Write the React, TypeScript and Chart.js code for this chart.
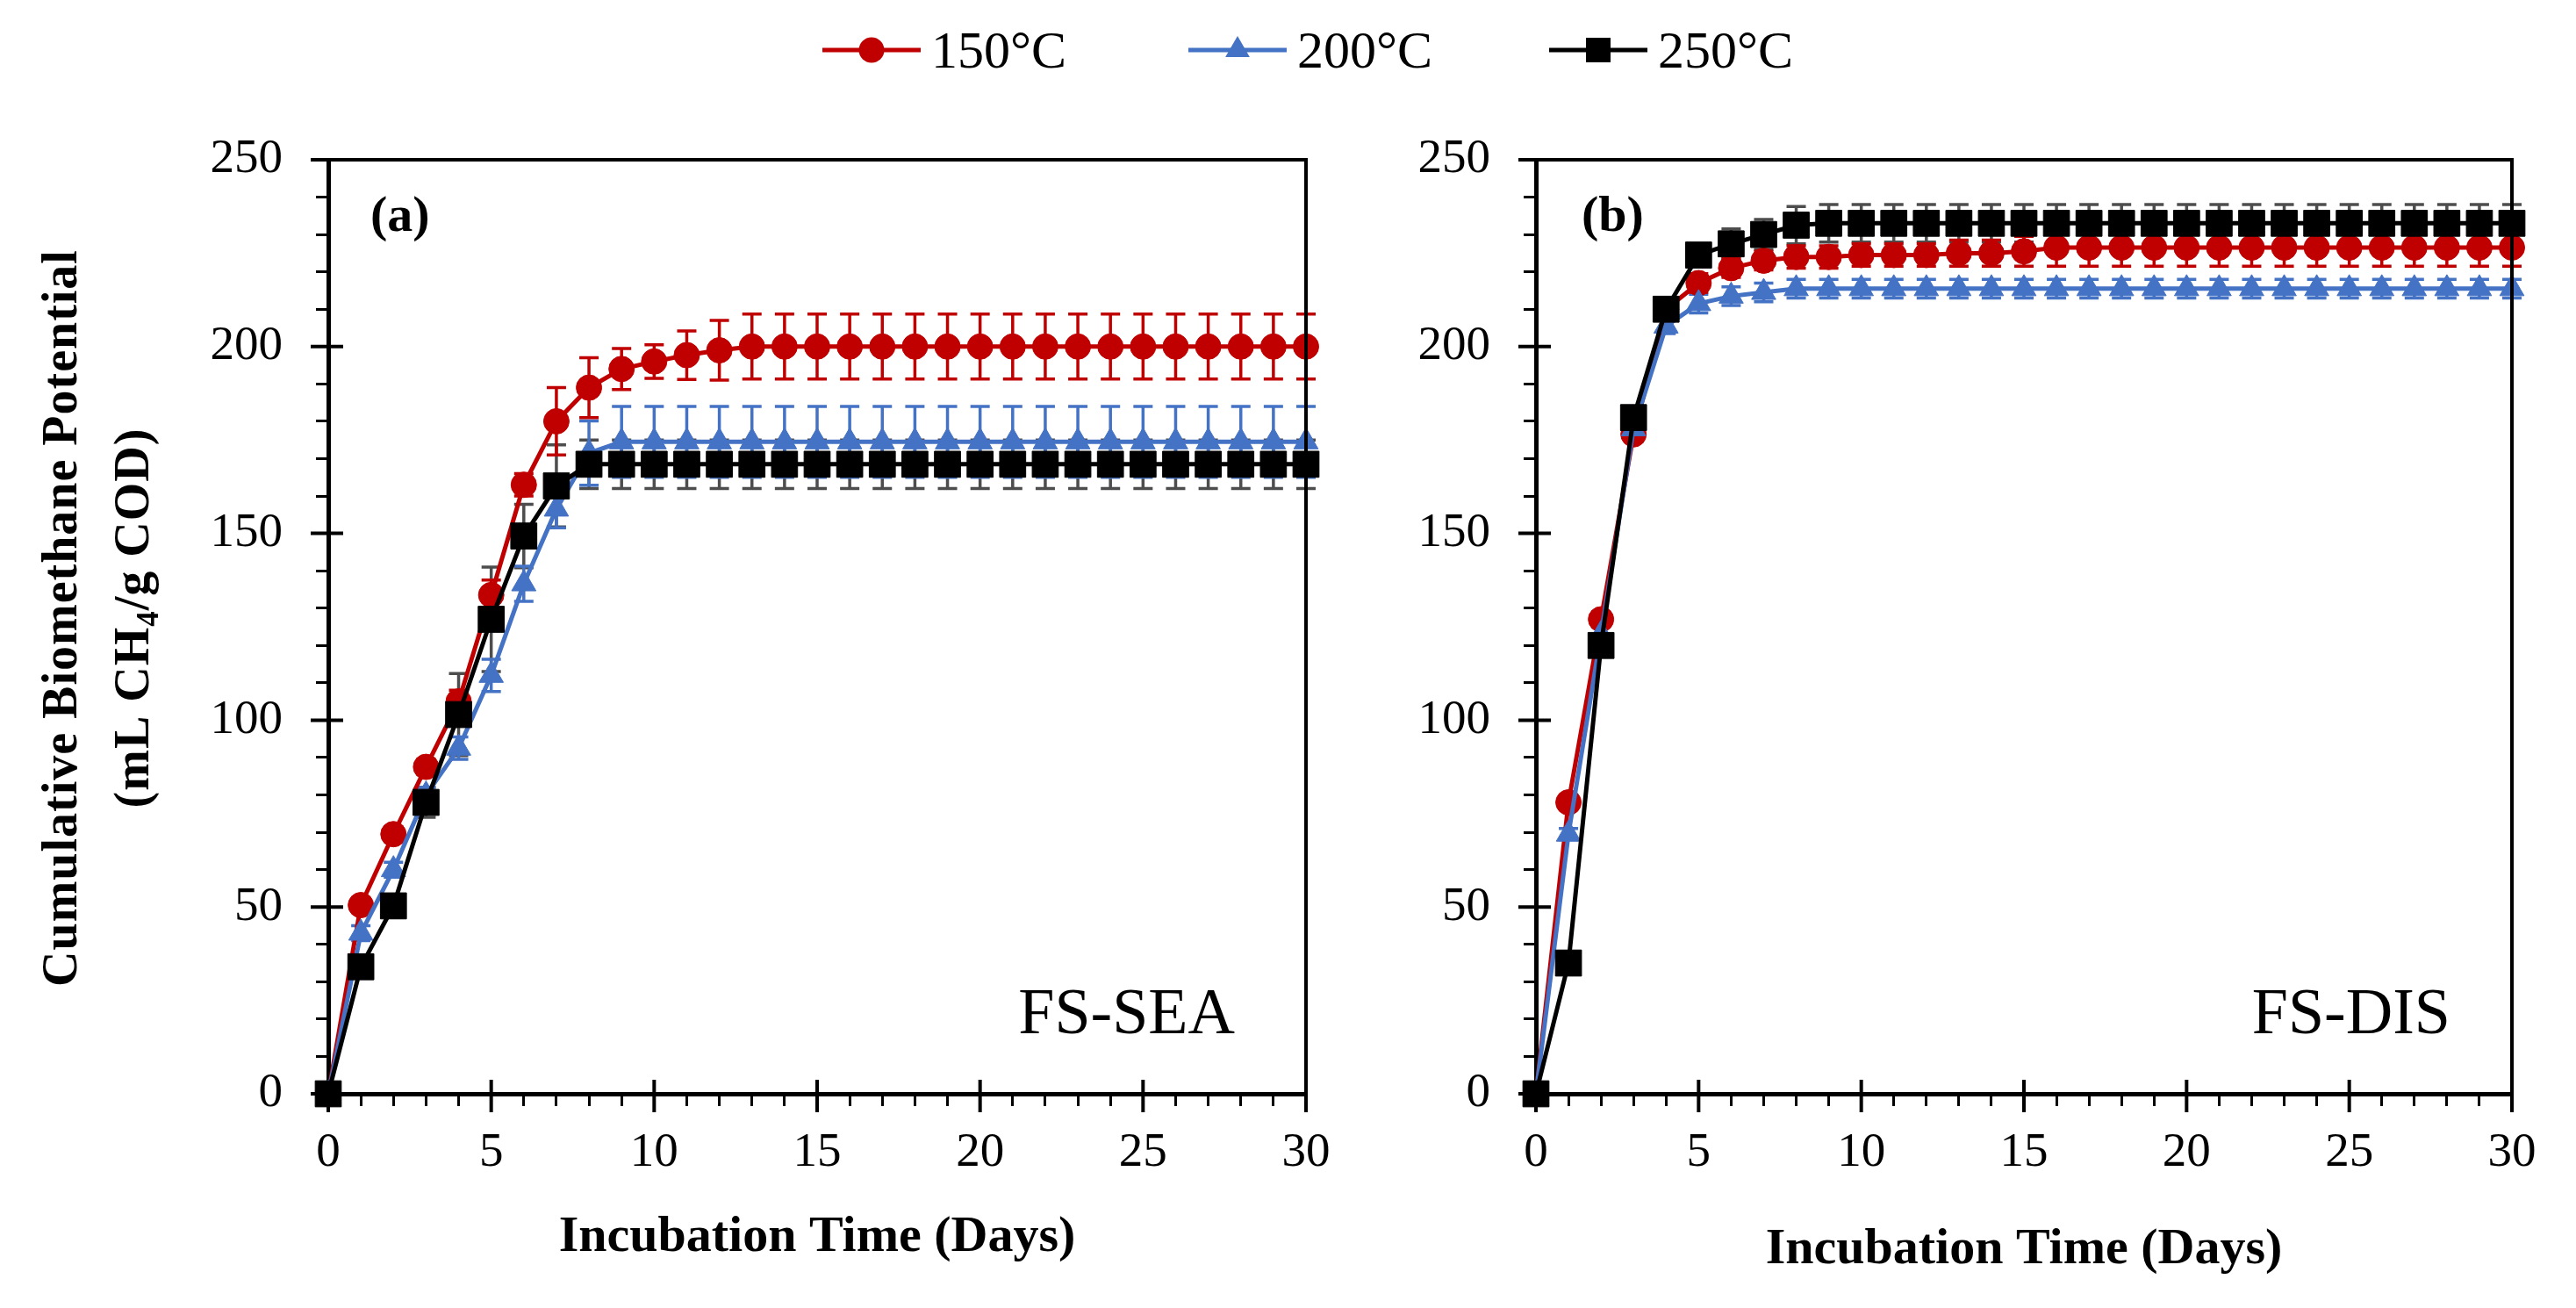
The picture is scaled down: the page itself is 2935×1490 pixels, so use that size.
import { useEffect, useRef } from 'react'
import { Chart, registerables } from 'chart.js'

Chart.register(...registerables)

const FONT = '"Liberation Serif", "Times New Roman", serif'
const RED = '#C00000'
const BLUE = '#4472C4'
const BLACK = '#000000'
const GREY = '#4D4D4D'

// incubation days
const days = [0, 1, 2, 3, 4, 5, 6, 7, 8, 9, 10, 11, 12, 13, 14, 15, 16, 17, 18, 19, 20, 21, 22, 23, 24, 25, 26, 27, 28, 29, 30]
const xTickLabels = [0, 5, 10, 15, 20, 25, 30]
const yTickLabels = [0, 50, 100, 150, 200, 250]

// (a) FS-SEA
const sea150 = [0, 50.5, 69.5, 87.5, 105, 133.5, 163, 180, 189, 194, 196, 197.7, 199, 200, 200, 200, 200, 200, 200, 200, 200, 200, 200, 200, 200, 200, 200, 200, 200, 200, 200]
const sea150Err = [0, 2, 2, 2, 3, 4, 3, 9, 8, 5.5, 4.5, 6.5, 8, 8.7, 8.7, 8.7, 8.7, 8.7, 8.7, 8.7, 8.7, 8.7, 8.7, 8.7, 8.7, 8.7, 8.7, 8.7, 8.7, 8.7, 8.7]
const sea200 = [0, 43, 60, 80, 92.5, 112, 136.5, 156.5, 171.5, 174.5, 174.5, 174.5, 174.5, 174.5, 174.5, 174.5, 174.5, 174.5, 174.5, 174.5, 174.5, 174.5, 174.5, 174.5, 174.5, 174.5, 174.5, 174.5, 174.5, 174.5, 174.5]
const sea200Err = [0, 2, 2, 2, 3, 4.3, 4.7, 5, 8.6, 9.5, 9.5, 9.5, 9.5, 9.5, 9.5, 9.5, 9.5, 9.5, 9.5, 9.5, 9.5, 9.5, 9.5, 9.5, 9.5, 9.5, 9.5, 9.5, 9.5, 9.5, 9.5]
const sea250 = [0, 34, 50.3, 78, 101.5, 127, 149.3, 162.7, 168.5, 168.5, 168.5, 168.5, 168.5, 168.5, 168.5, 168.5, 168.5, 168.5, 168.5, 168.5, 168.5, 168.5, 168.5, 168.5, 168.5, 168.5, 168.5, 168.5, 168.5, 168.5, 168.5]
const sea250Err = [0, 2, 3, 4, 11, 14, 8.5, 11, 6.5, 6.5, 6.5, 6.5, 6.5, 6.5, 6.5, 6.5, 6.5, 6.5, 6.5, 6.5, 6.5, 6.5, 6.5, 6.5, 6.5, 6.5, 6.5, 6.5, 6.5, 6.5, 6.5]

// (b) FS-DIS
const dis150 = [0, 78, 127, 176.5, 210, 217, 221, 223, 224, 224, 224.5, 224.5, 224.5, 225, 225, 225.5, 226.5, 226.5, 226.5, 226.5, 226.5, 226.5, 226.5, 226.5, 226.5, 226.5, 226.5, 226.5, 226.5, 226.5, 226.5]
const dis150Err = [0, 2, 2, 2, 2, 2.5, 2.5, 2.5, 3, 3, 3, 3, 3, 3.5, 3.5, 4, 5, 5, 5, 5, 5, 5, 5, 5, 5, 5, 5, 5, 5, 5, 5]
const dis200 = [0, 69.5, 123, 178, 205.5, 211.5, 213.5, 214.5, 215.5, 215.5, 215.5, 215.5, 215.5, 215.5, 215.5, 215.5, 215.5, 215.5, 215.5, 215.5, 215.5, 215.5, 215.5, 215.5, 215.5, 215.5, 215.5, 215.5, 215.5, 215.5, 215.5]
const dis200Err = [0, 1.5, 2, 2, 2, 2.5, 2.5, 2.5, 2.5, 2.5, 2.5, 2.5, 2.5, 2.5, 2.5, 2.5, 2.5, 2.5, 2.5, 2.5, 2.5, 2.5, 2.5, 2.5, 2.5, 2.5, 2.5, 2.5, 2.5, 2.5, 2.5]
const dis250 = [0, 35, 120, 181, 210, 224.5, 227.5, 230, 232.5, 233, 233, 233, 233, 233, 233, 233, 233, 233, 233, 233, 233, 233, 233, 233, 233, 233, 233, 233, 233, 233, 233]
const dis250Err = [0, 1.5, 3, 2, 3, 3, 4, 4, 5, 5, 5, 5, 5, 5, 5, 5, 5, 5, 5, 5, 5, 5, 5, 5, 5, 5, 5, 5, 5, 5, 5]

const seriesNames = ['150°C', '200°C', '250°C']
const yTitleLines = [
  [{ t: 'Cumulative Biomethane Potential' }],
  [{ t: '(mL CH' }, { t: '4', sub: true }, { t: '/g COD)' }],
]

const errorBars = {
  id: 'errorBars',
  beforeDatasetsDraw(chart) {
    const { ctx } = chart
    const y = chart.scales.y
    const x = chart.scales.x
    // red, blue, black so the black bars end on top
    ;[...chart.data.datasets].reverse().forEach((ds) => {
      ctx.save()
      ctx.strokeStyle = ds.errorColor
      ctx.lineWidth = 3.5
      ds.data.forEach((p, j) => {
        const e = ds.errors[j]
        if (!e) return
        const px = x.getPixelForValue(p.x)
        const top = y.getPixelForValue(p.y + e)
        const bot = y.getPixelForValue(p.y - e)
        ctx.beginPath()
        ctx.moveTo(px, top)
        ctx.lineTo(px, bot)
        ctx.moveTo(px - 11, top)
        ctx.lineTo(px + 11, top)
        ctx.moveTo(px - 11, bot)
        ctx.lineTo(px + 11, bot)
        ctx.stroke()
      })
      ctx.restore()
    })
  },
}

const majorTicks = {
  id: 'majorTicks',
  beforeDatasetsDraw(chart) {
    const { ctx, chartArea: a } = chart
    const { x, y } = chart.scales
    ctx.save()
    ctx.strokeStyle = '#000'
    ctx.lineWidth = 4
    ctx.beginPath()
    yTickLabels.forEach((v) => {
      const p = y.getPixelForValue(v)
      ctx.moveTo(a.left - 20, p)
      ctx.lineTo(a.left + 17, p)
    })
    xTickLabels.forEach((v) => {
      const p = x.getPixelForValue(v)
      ctx.moveTo(p, a.bottom - 16)
      ctx.lineTo(p, a.bottom + 21)
    })
    ctx.stroke()
    ctx.restore()
  },
}

const frame = {
  id: 'frame',
  afterDatasetsDraw(chart) {
    const { ctx, chartArea: a } = chart
    ctx.save()
    ctx.strokeStyle = '#000'
    ctx.lineWidth = 4
    ctx.beginPath()
    ctx.moveTo(a.left, a.top)
    ctx.lineTo(a.right, a.top)
    ctx.lineTo(a.right, a.bottom)
    ctx.stroke()
    ctx.restore()
  },
}

const panelText = {
  id: 'panelText',
  afterDraw(chart, _args, opts) {
    const { ctx, chartArea: a } = chart
    ctx.save()
    ctx.fillStyle = '#000'
    ctx.font = `bold 58px ${FONT}`
    ctx.textAlign = 'left'
    ctx.textBaseline = 'middle'
    ctx.fillText(opts.tag, a.left + opts.tagDx, a.top + 66)
    ctx.font = `74px ${FONT}`
    ctx.textAlign = 'right'
    ctx.textBaseline = 'alphabetic'
    ctx.fillText(opts.name, a.right - opts.nameDx, a.bottom - 69)
    ctx.restore()
  },
}

const yTitle = {
  id: 'yTitle',
  afterDraw(chart, _args, opts) {
    if (!opts.show) return
    const { ctx, chartArea: a } = chart
    const size = 56
    const cy = (a.top + a.bottom) / 2 - 10
    const centers = [73, 155]
    yTitleLines.forEach((parts, i) => {
      ctx.save()
      ctx.translate(centers[i], cy)
      ctx.rotate(-Math.PI / 2)
      ctx.fillStyle = '#000'
      ctx.textBaseline = 'middle'
      ctx.textAlign = 'left'
      ctx.letterSpacing = '1px'
      const fontOf = (p) => `bold ${p.sub ? Math.round(size * 0.62) : size}px ${FONT}`
      let total = 0
      parts.forEach((p) => {
        ctx.font = fontOf(p)
        total += ctx.measureText(p.t).width
      })
      let cx = -total / 2
      parts.forEach((p) => {
        ctx.font = fontOf(p)
        ctx.fillText(p.t, cx, p.sub ? size * 0.28 : 0)
        cx += ctx.measureText(p.t).width
      })
      ctx.restore()
    })
  },
}

function line(label, values, errors, color, errorColor, pointStyle, radius, order) {
  return {
    label,
    data: days.map((d, i) => ({ x: d, y: values[i] })),
    errors,
    errorColor,
    borderColor: color,
    backgroundColor: color,
    pointBackgroundColor: color,
    pointBorderColor: color,
    pointBorderWidth: 1,
    pointStyle,
    pointRadius: radius,
    borderWidth: 5,
    tension: 0,
    clip: false,
    order,
  }
}

function Panel({ left, width, yAxisWidth, padRight, titleBottom, tag, name, tagDx, nameDx, showYTitle, s150, e150, s200, e200, s250, e250 }) {
  const ref = useRef<HTMLCanvasElement>(null)

  useEffect(() => {
    const tickFont = { family: FONT, size: 55 }
    const chart = new Chart(ref.current!, {
      type: 'line',
      data: {
        datasets: [
          line(seriesNames[0], s150, e150, RED, RED, 'circle', 14.5, 3),
          line(seriesNames[1], s200, e200, BLUE, BLUE, 'triangle', 16, 2),
          line(seriesNames[2], s250, e250, BLACK, GREY, 'rect', 21, 1),
        ],
      },
      options: {
        responsive: false,
        animation: false,
        layout: { padding: { top: 182, right: padRight, left: 0, bottom: 0 } },
        plugins: {
          legend: { display: false },
          tooltip: { enabled: false },
          panelText: { tag, name, tagDx, nameDx },
          yTitle: { show: showYTitle },
        },
        scales: {
          x: {
            type: 'linear',
            min: 0,
            max: 30,
            afterFit: (s) => {
              s.height = 1490 - 1246
            },
            ticks: {
              stepSize: 1,
              autoSkip: false,
              maxRotation: 0,
              minRotation: 0,
              padding: 21,
              color: '#000',
              font: tickFont,
              callback: (v) => (xTickLabels.includes(Math.round(v)) ? String(Math.round(v)) : ''),
            },
            grid: { display: true, drawOnChartArea: false, drawTicks: true, tickLength: 14, tickColor: '#000', tickWidth: 3 },
            border: { display: true, color: '#000', width: 5 },
            title: {
              display: true,
              text: 'Incubation Time (Days)',
              color: '#000',
              font: { family: FONT, size: 58, weight: 'bold' },
              padding: { top: 0, bottom: titleBottom },
            },
          },
          y: {
            min: 0,
            max: 250,
            afterFit: (s) => {
              s.width = yAxisWidth
            },
            ticks: {
              stepSize: 10,
              autoSkip: false,
              padding: 38,
              color: '#000',
              font: tickFont,
              callback: (v) => (yTickLabels.includes(Math.round(v)) ? String(Math.round(v)) : ''),
            },
            grid: { display: true, drawOnChartArea: false, drawTicks: true, tickLength: 14, tickColor: '#000', tickWidth: 3 },
            border: { display: true, color: '#000', width: 5 },
          },
        },
      },
      plugins: [errorBars, majorTicks, frame, panelText, yTitle],
    })
    return () => chart.destroy()
  }, [])

  return <canvas ref={ref} width={width} height={1490} style={{ position: 'absolute', left, top: 0, width, height: 1490 }} />
}

function LegendItem({ left, color, marker, text }) {
  return (
    <div style={{ position: 'absolute', left, top: 27, height: 60, display: 'flex', alignItems: 'center' }}>
      <svg width={112} height={60}>
        <line x1={0} y1={30} x2={112} y2={30} stroke={color} strokeWidth={5} />
        {marker}
      </svg>
      <span style={{ marginLeft: 12, fontFamily: FONT, fontSize: 60, lineHeight: '60px', color: '#000' }}>{text}</span>
    </div>
  )
}

export default function App() {
  return (
    <div style={{ position: 'absolute', left: 0, top: 0, width: 2935, height: 1490, background: '#fff', overflow: 'hidden' }}>
      <Panel
        left={0}
        width={1560}
        yAxisWidth={374}
        padRight={72}
        titleBottom={45}
        tag="(a)"
        name="FS-SEA"
        tagDx={48}
        nameDx={81}
        showYTitle={true}
        s150={sea150}
        e150={sea150Err}
        s200={sea200}
        e200={sea200Err}
        s250={sea250}
        e250={sea250Err}
      />
      <Panel
        left={1560}
        width={1375}
        yAxisWidth={190}
        padRight={73}
        titleBottom={31}
        tag="(b)"
        name="FS-DIS"
        tagDx={52}
        nameDx={70}
        showYTitle={false}
        s150={dis150}
        e150={dis150Err}
        s200={dis200}
        e200={dis200Err}
        s250={dis250}
        e250={dis250Err}
      />
      <LegendItem left={937} color={RED} text={seriesNames[0]} marker={<circle cx={56} cy={30} r={14.5} fill={RED} />} />
      <LegendItem left={1354} color={BLUE} text={seriesNames[1]} marker={<polygon points="56,14 69.9,38 42.1,38" fill={BLUE} />} />
      <LegendItem left={1765} color={BLACK} text={seriesNames[2]} marker={<rect x={42} y={16} width={28} height={28} fill={BLACK} />} />
    </div>
  )
}
